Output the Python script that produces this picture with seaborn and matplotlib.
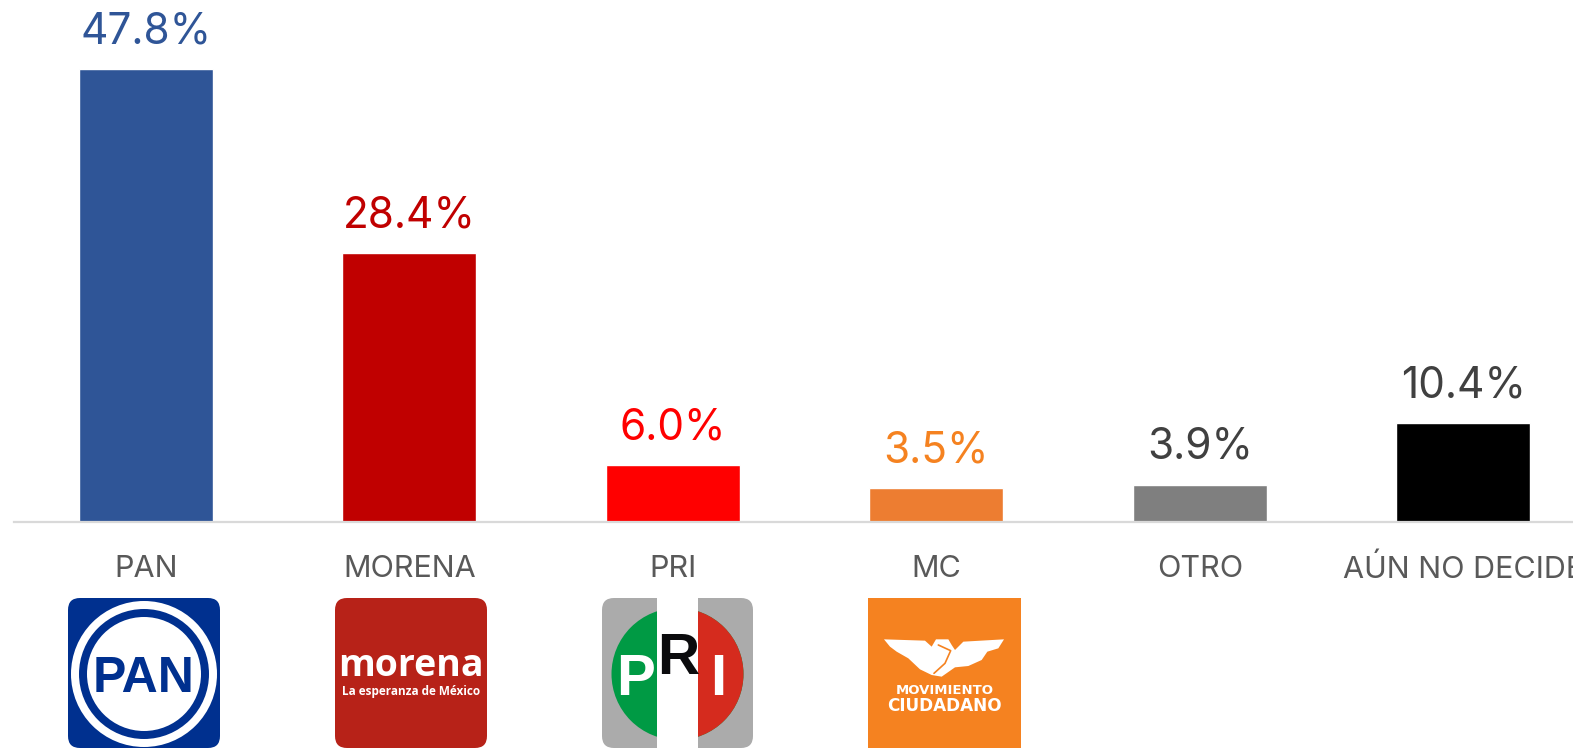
import matplotlib
matplotlib.use("Agg")
import matplotlib.pyplot as plt
from matplotlib.patches import FancyBboxPatch, Circle, Rectangle, Polygon
import pandas as pd
import seaborn as sns

# Poll results
partidos = ['PAN', 'MORENA', 'PRI', 'MC', 'OTRO', 'AÚN NO DECIDE']
valores = [47.8, 28.4, 6.0, 3.5, 3.9, 10.4]
colores_barra = ['#2F5597', '#C00000', '#FF0000', '#ED7D31', '#7F7F7F', '#000000']
colores_texto = ['#2F5597', '#C00000', '#FF0000', '#F58220', '#404040', '#404040']

W, H = 1573, 748
FUENTE = 'Inter'

sns.set_theme(style='white')
plt.rcParams['font.family'] = [FUENTE, 'DejaVu Sans']

df = pd.DataFrame({'partido': partidos, 'valor': valores})

fig = plt.figure(figsize=(W / 100, H / 100), dpi=100, facecolor='white')

# the plot runs past the right edge, same as the original
ax = fig.add_axes([14 / W, (H - 521.5) / H, 1581 / W, 521.5 / H])
sns.barplot(data=df, x='partido', y='valor', hue='partido', palette=colores_barra,
            width=0.507, saturation=1, legend=False, dodge=False, ax=ax)
ax.set_xlim(-0.5, 5.5)
ax.set_ylim(0, 55.1)
ax.set_xlabel('')
ax.set_ylabel('')
ax.set_yticks([])
ax.patch.set_alpha(0)
for lado in ['top', 'left', 'right']:
    ax.spines[lado].set_visible(False)
ax.spines['bottom'].set_color('#D9D9D9')
ax.spines['bottom'].set_linewidth(1.6)
ax.tick_params(axis='x', length=0, pad=24, labelsize=22, labelcolor='#595959')

for cont, val, col in zip(ax.containers, valores, colores_texto):
    ax.bar_label(cont, labels=[f'{val:.1f}%'], color=col, fontsize=30.5, padding=12)

# Party logos, drawn on an overlay in pixel coordinates
lg = fig.add_axes([0, 0, 1, 1], zorder=3)
lg.set_xlim(0, W)
lg.set_ylim(H, 0)
lg.axis('off')


def caja(x0, x1, color, radio=12):
    p = FancyBboxPatch((x0 + radio, 598 + radio), x1 - x0 - 2 * radio, 150 - 2 * radio,
                       boxstyle=f'round,pad={radio},rounding_size={radio}',
                       fc=color, ec='none')
    lg.add_patch(p)
    return p


def letra(x, y, s, color, size, family='Liberation Sans'):
    lg.text(x, y, s, color=color, fontsize=size, fontweight='bold', family=family,
            ha='center', va='center_baseline')


# PAN
caja(68, 220, '#00308F')
lg.add_patch(Circle((144, 674), 73, fc='white', ec='none'))
lg.add_patch(Circle((144, 674), 65, fc='#00308F', ec='none'))
lg.add_patch(Circle((144, 674), 57, fc='white', ec='none'))
letra(144, 674, 'PAN', '#00308F', 36)

# morena
caja(335, 487, '#B72218')
letra(411, 662, 'morena', 'white', 27, family='Open Sans')
letra(411, 690, 'La esperanza de México', 'white', 8.5, family='Open Sans')

# PRI
caja(602, 753, '#ABABAB')
verde = Circle((677.5, 674), 66, fc='#009A44', ec='none')
lg.add_patch(verde)
rojo = Rectangle((677.5, 600), 70, 148, fc='#D52B1E', ec='none')
lg.add_patch(rojo)
rojo.set_clip_path(verde)
lg.add_patch(Rectangle((657, 598), 41, 150, fc='white', ec='none'))
letra(636, 674, 'P', 'white', 42)
letra(678.5, 653.5, 'R', '#0B0B0D', 42)
letra(718, 674, 'I', 'white', 42)

# MC
lg.add_patch(Rectangle((868, 598), 153, 150, fc='#F58220', ec='none'))
aguila = [(912, 178), (1035, 182), (1055, 200), (1068, 178), (1105, 178), (1115, 195), (1125, 210),
          (1150, 185), (1272, 178), (1255, 205), (1222, 215), (1205, 240), (1165, 258), (1125, 262),
          (1085, 290), (1055, 285), (1020, 268), (985, 235), (950, 215), (930, 200)]
lg.add_patch(Polygon([(580 + a / 3, 580 + b / 3) for a, b in aguila], fc='white', ec='none'))
cuello = [(1075, 195), (1112, 212), (1095, 250), (1062, 280)]
lg.plot([580 + a / 3 for a, b in cuello], [580 + b / 3 for a, b in cuello], color='#F58220', lw=1.2)
lg.set_xlim(0, W)
lg.set_ylim(H, 0)
letra(945, 689, 'MOVIMIENTO', 'white', 9.5, family='DejaVu Sans')
letra(944, 704, 'CIUDADANO', 'white', 12.2, family='DejaVu Sans')

fig.savefig('out.png', dpi=100)
